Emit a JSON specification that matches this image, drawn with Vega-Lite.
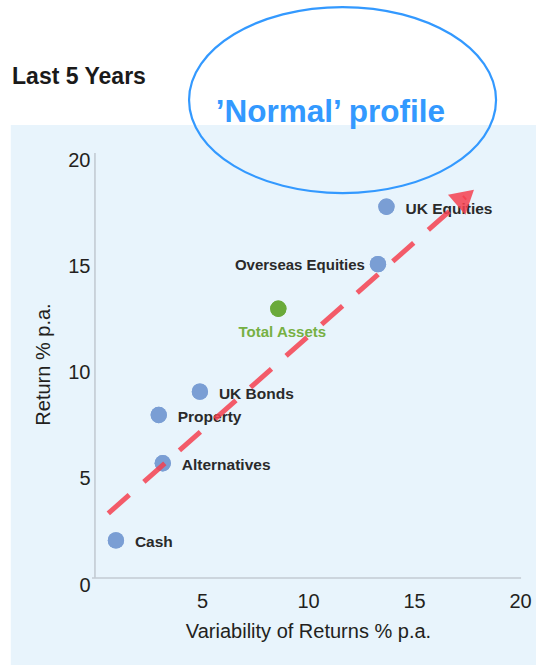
{
  "$schema": "https://vega.github.io/schema/vega-lite/v6.json",
  "width": 424,
  "height": 425,
  "autosize": {"type": "none"},
  "padding": {"left": 96, "top": 160, "right": 16, "bottom": 80},
  "background": "#e8f4fc",
  "config": {
    "view": {"stroke": null},
    "axis": {
      "domain": false,
      "ticks": false,
      "grid": false,
      "labelFlush": false,
      "labelFont": "Liberation Sans",
      "labelFontSize": 20,
      "labelColor": "#231f20",
      "titleFont": "Liberation Sans",
      "titleFontSize": 20,
      "titleFontWeight": "normal",
      "titleColor": "#231f20"
    }
  },
  "datasets": {
    "assets": [
      {"asset": "UK Equities", "variability": 13.7, "return": 17.8},
      {"asset": "Overseas Equities", "variability": 13.3, "return": 15.1},
      {"asset": "Total Assets", "variability": 8.6, "return": 13.0},
      {"asset": "UK Bonds", "variability": 4.9, "return": 9.1},
      {"asset": "Property", "variability": 2.96, "return": 8.0},
      {"asset": "Alternatives", "variability": 3.15, "return": 5.73},
      {"asset": "Cash", "variability": 0.94, "return": 2.1}
    ],
    "trend": [
      {"variability": 0.58, "return": 3.37},
      {"variability": 17.42, "return": 18.25}
    ],
    "one": [{}]
  },
  "layer": [
    {
      "data": {"name": "assets"},
      "mark": {"type": "circle", "size": 265, "opacity": 1},
      "encoding": {
        "x": {
          "field": "variability",
          "type": "quantitative",
          "scale": {"domain": [0, 20], "nice": false, "zero": false},
          "axis": {"values": [5, 10, 15, 20], "labelPadding": 6, "title": "Variability of Returns % p.a.", "titlePadding": 10}
        },
        "y": {
          "field": "return",
          "type": "quantitative",
          "scale": {"domain": [0, 20], "nice": false, "zero": false},
          "axis": {"values": [0, 5, 10, 15, 20], "labelPadding": 6, "title": "Return % p.a.", "titlePadding": 14, "titleY": 204}
        },
        "color": {
          "condition": {"test": "datum.asset === 'Total Assets'", "value": "#6aaa3a"},
          "value": "#7a9ed4"
        }
      }
    },
    {
      "data": {"name": "one"},
      "mark": {"type": "rect", "color": "white"},
      "encoding": {
        "x": {"datum": -5, "type": "quantitative"},
        "x2": {"datum": 21.5},
        "y": {"datum": 21.65, "type": "quantitative"},
        "y2": {"datum": 28}
      }
    },
    {
      "data": {"name": "one"},
      "mark": {"type": "rect", "color": "white"},
      "encoding": {
        "x": {"datum": -5, "type": "quantitative"},
        "x2": {"datum": -4.02},
        "y": {"datum": 22, "type": "quantitative"},
        "y2": {"datum": -5}
      }
    },
    {
      "data": {"name": "one"},
      "mark": {"type": "rule", "color": "#c3cbd3", "strokeWidth": 1.6},
      "encoding": {
        "x": {"datum": -0.05, "type": "quantitative"},
        "y": {"datum": 0.33, "type": "quantitative"},
        "y2": {"datum": 20.33}
      }
    },
    {
      "data": {"name": "one"},
      "mark": {"type": "rule", "color": "#c3cbd3", "strokeWidth": 1.6},
      "encoding": {
        "x": {"datum": -0.19, "type": "quantitative"},
        "x2": {"datum": 20.05},
        "y": {"datum": 0.33, "type": "quantitative"}
      }
    },
    {
      "data": {"name": "assets"},
      "mark": {"type": "circle", "size": 265, "opacity": 1},
      "encoding": {
        "x": {"field": "variability", "type": "quantitative"},
        "y": {"field": "return", "type": "quantitative"},
        "color": {
          "condition": {"test": "datum.asset === 'Total Assets'", "value": "#6aaa3a"},
          "value": "#7a9ed4"
        }
      }
    },
    {
      "data": {"name": "assets"},
      "transform": [{"filter": "datum.asset !== 'Overseas Equities' && datum.asset !== 'Total Assets'"}],
      "mark": {"type": "text", "align": "left", "baseline": "middle", "dx": 19, "dy": 2, "font": "Liberation Sans", "fontWeight": "bold", "fontSize": 15.5, "color": "#2a2a2a"},
      "encoding": {
        "x": {"field": "variability", "type": "quantitative"},
        "y": {"field": "return", "type": "quantitative"},
        "text": {"field": "asset"}
      }
    },
    {
      "data": {"name": "assets"},
      "transform": [{"filter": "datum.asset === 'Overseas Equities'"}],
      "mark": {"type": "text", "align": "right", "baseline": "middle", "dx": -13, "dy": 1, "font": "Liberation Sans", "fontWeight": "bold", "fontSize": 15, "color": "#2a2a2a"},
      "encoding": {
        "x": {"field": "variability", "type": "quantitative"},
        "y": {"field": "return", "type": "quantitative"},
        "text": {"field": "asset"}
      }
    },
    {
      "data": {"name": "assets"},
      "transform": [{"filter": "datum.asset === 'Total Assets'"}],
      "mark": {"type": "text", "align": "center", "baseline": "alphabetic", "dx": 4, "dy": 28, "font": "Liberation Sans", "fontWeight": "bold", "fontSize": 15, "color": "#76b043"},
      "encoding": {
        "x": {"field": "variability", "type": "quantitative"},
        "y": {"field": "return", "type": "quantitative"},
        "text": {"field": "asset"}
      }
    },
    {
      "data": {"name": "trend"},
      "mark": {"type": "line", "color": "#f5404f", "strokeWidth": 5, "strokeDash": [28, 19.5], "strokeCap": "butt", "opacity": 0.85},
      "encoding": {
        "x": {"field": "variability", "type": "quantitative"},
        "y": {"field": "return", "type": "quantitative"}
      }
    },
    {
      "data": {"name": "one"},
      "mark": {"type": "point", "shape": "triangle-up", "filled": true, "size": 700, "angle": 49, "color": "#f5404f", "opacity": 0.85},
      "encoding": {
        "x": {"datum": 17.42, "type": "quantitative"},
        "y": {"datum": 18.25, "type": "quantitative"}
      }
    },
    {
      "data": {"name": "one"},
      "mark": {"type": "point", "shape": "M -1 0 A 1 0.606 0 1 1 1 0 A 1 0.606 0 1 1 -1 0 Z", "size": 94249, "filled": false, "color": "#3399ff", "strokeWidth": 2.2, "opacity": 1},
      "encoding": {
        "x": {"datum": 11.63, "type": "quantitative"},
        "y": {"datum": 22.82, "type": "quantitative"}
      }
    },
    {
      "data": {"name": "one"},
      "mark": {"type": "text", "text": "’Normal’ profile", "align": "center", "baseline": "alphabetic", "font": "Liberation Sans", "fontWeight": "bold", "fontSize": 31.5, "color": "#3399ff"},
      "encoding": {
        "x": {"datum": 11.06, "type": "quantitative"},
        "y": {"datum": 21.79, "type": "quantitative"}
      }
    },
    {
      "data": {"name": "one"},
      "mark": {"type": "text", "text": "Last 5 Years", "align": "left", "baseline": "alphabetic", "font": "Liberation Sans", "fontWeight": "bold", "fontSize": 23, "color": "#1a1a1a"},
      "encoding": {
        "x": {"datum": -3.96, "type": "quantitative"},
        "y": {"datum": 23.58, "type": "quantitative"}
      }
    }
  ]
}
